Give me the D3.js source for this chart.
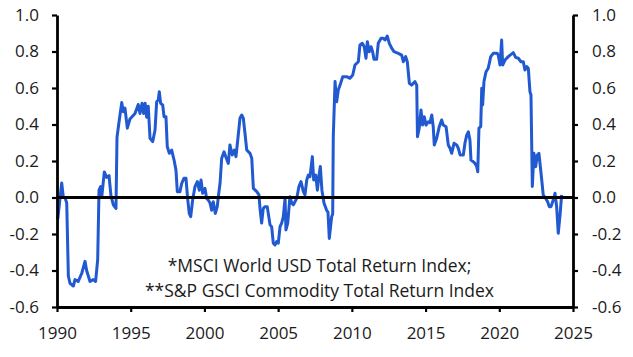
<!DOCTYPE html>
<html>
<head>
<meta charset="utf-8">
<script src="https://cdn.jsdelivr.net/npm/d3@7"></script>
<style>
  html, body { margin: 0; padding: 0; background: #fff; }
  svg { display: block; }
  text { font-family: "Open Sans", "Noto Sans", sans-serif; fill: #1a1a1a; }
</style>
</head>
<body>
<svg id="chart" width="633" height="357"></svg>
<script>
// Dates (decimal years) and correlation values
const dates = [
  1990.05,1990.32,1990.43,1990.54,1990.66,1990.77,1990.88,1991.11,1991.22,1991.44,
  1991.68,1991.90,1992.01,1992.24,1992.46,1992.62,1992.76,1992.85,1992.96,1993.03,
  1993.21,1993.37,1993.53,1993.66,1993.82,1994.00,1994.07,1994.21,1994.39,1994.50,
  1994.61,1994.77,1994.95,1995.29,1995.51,1995.63,1995.77,1995.88,1995.98,1996.08,
  1996.19,1996.31,1996.49,1996.65,1996.76,1996.87,1996.94,1997.03,1997.17,1997.26,
  1997.39,1997.48,1997.62,1997.78,1997.94,1998.07,1998.16,1998.34,1998.46,1998.61,
  1998.75,1998.86,1998.97,1999.07,1999.20,1999.36,1999.52,1999.65,1999.77,1999.88,
  2000.04,2000.15,2000.26,2000.38,2000.49,2000.60,2000.74,2000.87,2000.97,2001.06,
  2001.17,2001.33,2001.44,2001.62,2001.73,2001.89,2002.03,2002.14,2002.26,2002.41,
  2002.53,2002.64,2002.75,2002.87,2003.09,2003.21,2003.32,2003.55,2003.70,2003.77,
  2003.88,2003.99,2004.11,2004.26,2004.45,2004.56,2004.67,2004.79,2004.90,2005.01,
  2005.13,2005.24,2005.35,2005.47,2005.53,2005.65,2005.80,2005.92,2006.03,2006.14,
  2006.26,2006.41,2006.55,2006.71,2006.82,2006.94,2007.05,2007.16,2007.32,2007.41,
  2007.55,2007.66,2007.79,2007.86,2007.97,2008.11,2008.29,2008.38,2008.47,2008.63,
  2008.70,2008.74,2008.86,2008.97,2009.08,2009.20,2009.38,2009.65,2009.87,2010.06,
  2010.21,2010.44,2010.55,2010.71,2010.84,2010.96,2011.05,2011.18,2011.30,2011.41,
  2011.50,2011.68,2011.79,2011.98,2012.13,2012.25,2012.40,2012.54,2012.70,2012.86,
  2013.15,2013.38,2013.49,2013.65,2013.76,2013.90,2014.06,2014.28,2014.40,2014.45,
  2014.57,2014.69,2014.80,2014.91,2015.03,2015.18,2015.30,2015.42,2015.52,2015.59,
  2015.75,2015.93,2016.09,2016.20,2016.39,2016.54,2016.66,2016.77,2016.93,2017.11,
  2017.22,2017.34,2017.56,2017.67,2017.79,2017.90,2018.01,2018.08,2018.24,2018.35,
  2018.47,2018.54,2018.62,2018.74,2018.81,2018.87,2018.96,2019.10,2019.25,2019.42,
  2019.59,2019.86,2019.93,2020.05,2020.16,2020.23,2020.39,2020.61,2020.95,2021.11,
  2021.29,2021.47,2021.63,2021.74,2021.86,2021.97,2022.08,2022.15,2022.24,2022.35,
  2022.47,2022.58,2022.69,2022.88,2022.98,2023.15,2023.28,2023.39,2023.51,2023.66,
  2023.78,2023.89,2024.00,2024.12,2024.23
];
const correlation = [
  -0.12,0.08,0.00,-0.00,-0.03,-0.43,-0.47,-0.485,-0.45,-0.46,
  -0.415,-0.35,-0.40,-0.46,-0.45,-0.46,-0.34,0.04,0.06,0.00,
  0.14,0.11,0.12,0.01,-0.04,-0.06,0.33,0.415,0.52,0.47,
  0.49,0.38,0.43,0.46,0.51,0.46,0.516,0.46,0.516,0.44,
  0.50,0.324,0.306,0.37,0.525,0.534,0.58,0.516,0.507,0.443,
  0.443,0.278,0.242,0.26,0.205,0.15,0.032,0.032,0.078,0.105,
  0.105,-0.005,-0.087,-0.105,-0.014,0.06,0.087,0.04,0.096,0.023,
  0.05,-0.005,-0.014,-0.03,-0.07,-0.023,-0.087,-0.05,0.023,0.078,
  0.215,0.25,0.225,0.187,0.288,0.233,0.26,0.224,0.315,0.434,
  0.452,0.434,0.352,0.26,0.242,0.215,0.05,0.032,0.014,-0.06,
  -0.14,-0.06,-0.05,-0.05,-0.15,-0.16,-0.25,-0.26,-0.242,-0.25,
  -0.16,-0.14,-0.105,-0.005,-0.178,-0.14,0.004,-0.03,-0.04,-0.023,
  -0.005,0.06,0.087,0.032,0.014,0.096,0.123,0.114,0.224,0.096,
  0.123,0.04,0.132,0.17,0.04,-0.03,-0.07,-0.08,-0.224,-0.105,
  -0.09,0.333,0.635,0.525,0.589,0.616,0.662,0.662,0.653,0.671,
  0.726,0.744,0.836,0.845,0.826,0.763,0.854,0.799,0.826,0.799,
  0.757,0.757,0.845,0.872,0.872,0.863,0.885,0.845,0.818,0.799,
  0.79,0.78,0.744,0.772,0.744,0.626,0.616,0.635,0.616,0.333,
  0.38,0.48,0.397,0.443,0.397,0.415,0.41,0.452,0.388,0.288,
  0.324,0.388,0.425,0.397,0.388,0.288,0.27,0.242,0.297,0.288,
  0.27,0.233,0.233,0.297,0.342,0.36,0.315,0.205,0.196,0.187,
  0.169,0.141,0.38,0.388,0.598,0.507,0.635,0.689,0.708,0.772,
  0.79,0.79,0.78,0.726,0.863,0.726,0.753,0.772,0.794,0.768,
  0.763,0.744,0.744,0.699,0.717,0.708,0.58,0.562,0.06,0.242,
  0.169,0.233,0.242,0.096,0.014,-0.005,-0.023,-0.05,-0.05,-0.014,
  0.023,-0.05,-0.196,-0.096,0.014
];
const yTicks = [-0.6,-0.4,-0.2,0.0,0.2,0.4,0.6,0.8,1.0];
const xTicks = [1990,1995,2000,2005,2010,2015,2020,2025];
const noteLines = [
  "*MSCI World USD Total Return Index;",
  "**S&P GSCI Commodity Total Return Index"
];

const svg = d3.select("#chart");
const plotL = 57, plotR = 573, plotT = 15, plotB = 307;
const x = d3.scaleLinear().domain([1990, 2025]).range([plotL, plotR]);
const y = d3.scaleLinear().domain([-0.6, 1.0]).range([plotB, plotT]);
const fmt = d => (d < -1e-9 ? "-" : "") + Math.abs(d).toFixed(1);

const data = dates.map((d, i) => ({ t: d, v: correlation[i] }));

// Data line
svg.append("path")
  .datum(data)
  .attr("fill", "none")
  .attr("stroke", "#2159d1")
  .attr("stroke-width", 3)
  .attr("stroke-linejoin", "round")
  .attr("d", d3.line().x(d => x(d.t)).y(d => y(d.v)));

// Zero line
svg.append("line")
  .attr("x1", plotL).attr("x2", plotR)
  .attr("y1", y(0)).attr("y2", y(0))
  .attr("stroke", "#000").attr("stroke-width", 2.8);

function styleAxis(g) {
  g.attr("font-family", null).attr("font-size", null);
  g.select(".domain").attr("stroke", "#000").attr("stroke-width", 2.8);
  g.selectAll(".tick line").attr("stroke", "#000").attr("stroke-width", 2.2);
  g.selectAll(".tick text").style("font-size", "17px").attr("fill", "#1a1a1a");
}

svg.append("g").attr("transform", `translate(${plotL},0)`)
  .call(d3.axisLeft(y).tickValues(yTicks).tickFormat(fmt).tickSize(5).tickSizeOuter(0).tickPadding(13))
  .call(styleAxis);

svg.append("g").attr("transform", `translate(${plotR},0)`)
  .call(d3.axisRight(y).tickValues(yTicks).tickFormat(fmt).tickSize(5).tickSizeOuter(0).tickPadding(14))
  .call(styleAxis);

svg.append("g").attr("transform", `translate(0,${plotB})`)
  .call(d3.axisBottom(x).tickValues(xTicks).tickFormat(d3.format("d")).tickSize(5).tickSizeOuter(0).tickPadding(15))
  .call(styleAxis);

// Note
svg.append("g").selectAll("text")
  .data(noteLines)
  .join("text")
  .attr("x", 319.5)
  .attr("y", (d, i) => 271.5 + i * 25)
  .attr("text-anchor", "middle")
  .style("font-size", "17.5px")
  .text(d => d);
</script>
</body>
</html>
